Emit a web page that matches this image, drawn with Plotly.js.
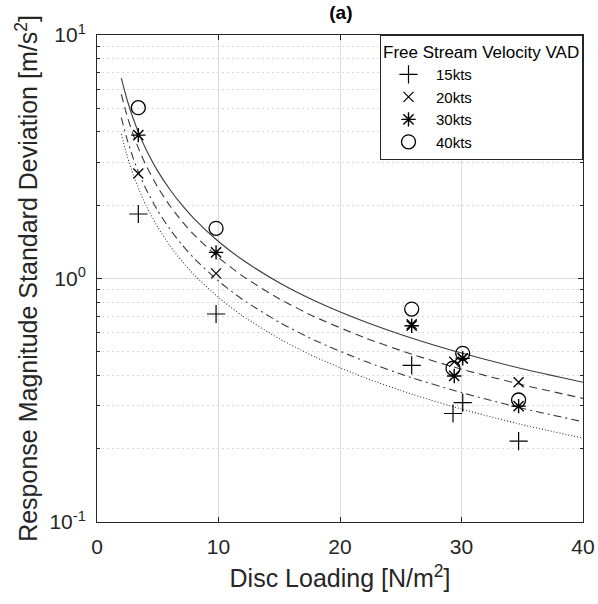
<!DOCTYPE html>
<html>
<head>
<meta charset="utf-8">
<script src="https://cdn.plot.ly/plotly-3.0.1.min.js"></script>
<style>html,body{margin:0;padding:0;background:#fff;}#chart{width:598px;height:604px;}</style>
</head>
<body>
<div id="chart"></div>
<script>
// Measured points (Disc Loading [N/m^2] vs response magnitude SD [m/s^2])
var series = ['15kts', '20kts', '30kts', '40kts'];
var x15 = [3.4, 9.8, 25.9, 29.3, 30.1, 34.7];
var y15 = [1.84, 0.715, 0.44, 0.279, 0.309, 0.215];
var x20 = [3.4, 9.8, 25.9, 29.4, 30.1, 34.7];
var y20 = [2.70, 1.05, 0.65, 0.455, 0.47, 0.375];
var x30 = [3.4, 9.8, 25.9, 29.4, 30.1, 34.7];
var y30 = [3.88, 1.28, 0.64, 0.398, 0.47, 0.299];
var x40 = [3.4, 9.8, 25.9, 29.3, 30.1, 34.7];
var y40 = [5.03, 1.607, 0.749, 0.428, 0.493, 0.317];

// Fitted curves
var xFit = [2, 2.5, 3, 3.5, 4, 5, 6, 7, 8, 10, 12, 15, 18, 22, 26, 30, 35, 40];
var fit40 = [6.65, 5.37, 4.51, 3.89, 3.42, 2.76, 2.32, 2.00, 1.758, 1.419, 1.191, 0.961, 0.807, 0.666, 0.567, 0.494, 0.426, 0.375];
var fit30 = [5.71, 4.61, 3.87, 3.34, 2.94, 2.37, 1.989, 1.716, 1.509, 1.218, 1.023, 0.825, 0.693, 0.572, 0.487, 0.424, 0.366, 0.322];
var fit20 = [4.58, 3.69, 3.10, 2.67, 2.35, 1.898, 1.594, 1.374, 1.209, 0.976, 0.819, 0.661, 0.555, 0.458, 0.390, 0.340, 0.293, 0.258];
var fit15 = [3.92, 3.16, 2.65, 2.29, 2.01, 1.625, 1.364, 1.177, 1.035, 0.836, 0.701, 0.566, 0.475, 0.392, 0.334, 0.291, 0.251, 0.221];

var yTickVals = [0.1, 1, 10];
var yTickText = ['10<sup>-1</sup>', '10<sup>0</sup>', '10<sup>1</sup>'];
var xTickVals = [0, 10, 20, 30, 40];

var FONT = 'Liberation Sans, Arial, Helvetica, sans-serif';
var AX = '#262626';
var LC = '#3a3a3a';

function fitLine(y, dash) {
  return {x: xFit, y: y, type: 'scatter', mode: 'lines', showlegend: false, hoverinfo: 'skip',
          line: {color: LC, width: 1.1, dash: dash, shape: 'spline', smoothing: 0.6}};
}
function pts(x, y, name, symbol, size, lw) {
  return {x: x, y: y, name: name, type: 'scatter', mode: 'markers',
          marker: {symbol: symbol, size: size, color: '#000', line: {color: '#000', width: lw}}};
}

var data = [
  fitLine(fit40, 'solid'),
  fitLine(fit30, '8px,5px'),
  fitLine(fit20, '8px,4px,2px,4px'),
  fitLine(fit15, '1px,2px'),
  pts(x15, y15, series[0], 'cross-thin-open', 13, 1.2),
  pts(x20, y20, series[1], 'x-thin-open', 10, 1.2),
  pts(x30, y30, series[2], 'asterisk-open', 12, 1.4),
  pts(x40, y40, series[3], 'circle-open', 14, 1.3)
];

var minorVals = [0.2,0.3,0.4,0.5,0.6,0.7,0.8,0.9,2,3,4,5,6,7,8,9];

var layout = {
  width: 598, height: 604,
  margin: {l: 97, r: 15, t: 35, b: 82},
  paper_bgcolor: '#fff', plot_bgcolor: '#fff',
  font: {family: FONT, color: AX},
  title: {text: '<b>(a)</b>', font: {family: FONT, size: 19, color: '#000'}, x: 0.57, xanchor: 'center', y: 0.99, yanchor: 'top'},
  showlegend: true,
  legend: {x: 1, y: 1, xanchor: 'right', yanchor: 'top', bgcolor: '#fff', bordercolor: AX, borderwidth: 1,
           font: {family: FONT, size: 15, color: '#000'},
           title: {text: 'Free Stream Velocity VAD', font: {family: FONT, size: 17, color: '#000'}},
           tracegroupgap: 0, itemwidth: 45},
  xaxis: {range: [0, 40], tickmode: 'array', tickvals: xTickVals, ticks: 'inside', ticklen: 5, tickcolor: AX,
          showline: true, linecolor: AX, linewidth: 1, mirror: 'ticks', zeroline: false,
          showgrid: true, gridcolor: '#dddddd', gridwidth: 1,
          tickfont: {family: FONT, size: 21, color: AX}, ticklabelstandoff: 6,
          title: {text: 'Disc Loading [N/m<sup>2</sup>]', font: {family: FONT, size: 25, color: AX}, standoff: 12}},
  yaxis: {type: 'log', range: [-1, 1], tickmode: 'array', tickvals: yTickVals, ticktext: yTickText,
          ticks: 'inside', ticklen: 5, tickcolor: AX,
          showline: true, linecolor: AX, linewidth: 1, mirror: 'ticks', zeroline: false,
          showgrid: true, gridcolor: '#dddddd', gridwidth: 1,
          minor: {tickmode: 'array', tickvals: minorVals, ticks: 'inside', ticklen: 3, tickcolor: AX,
                  showgrid: true, gridcolor: '#d8d8d8', griddash: '2px,3px', gridwidth: 1},
          tickfont: {family: FONT, size: 21, color: AX}, ticklabelstandoff: 6,
          title: {text: 'Response Magnitude Standard Deviation [m/s<sup>2</sup>]', font: {family: FONT, size: 25, color: AX}, standoff: 4}}
};

Plotly.newPlot('chart', data, layout, {displayModeBar: false, staticPlot: true});
</script>
</body>
</html>
